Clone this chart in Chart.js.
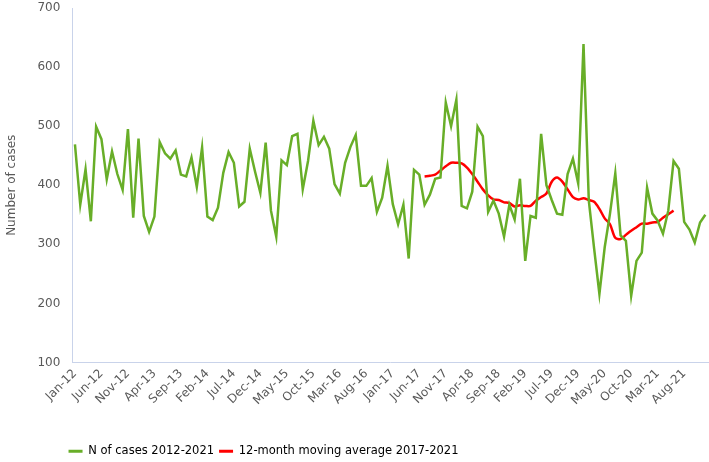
<!DOCTYPE html>
<html>
<head>
<meta charset="utf-8">
<script src="https://cdn.jsdelivr.net/npm/chart.js@4"></script>
<style>
  html, body { margin: 0; padding: 0; background: #fff; }
  #chart { display: block; }
</style>
</head>
<body>
<canvas id="chart" width="709" height="462"></canvas>
<script>
// --- Data ---
const monthNames = ['Jan', 'Feb', 'Mar', 'Apr', 'May', 'Jun', 'Jul', 'Aug', 'Sep', 'Oct', 'Nov', 'Dec'];
const years = ['12', '13', '14', '15', '16', '17', '18', '19', '20', '21'];

const cases = [
    469, 367, 427, 339, 499, 478, 410, 457, 419, 392, 495, 345,   // 2012
    479, 348, 321, 347, 473, 454, 445, 459, 418, 415, 447, 397,   // 2013
    464, 347, 341, 362, 421, 456, 438, 364, 372, 462, 423, 387,   // 2014
    472, 357, 313, 442, 434, 483, 487, 393, 441, 509, 468, 482,   // 2015
    462, 402, 386, 438, 465, 485, 399, 399, 412, 355, 379, 433,   // 2016
    368, 334, 367, 276, 426, 418, 367, 384, 411, 413, 540, 500,   // 2017
    545, 365, 361, 389, 499, 483, 355, 374, 352, 313, 367, 342,   // 2018
    411, 272, 348, 345, 487, 400, 375, 352, 350, 419, 445, 403,   // 2019
    639, 374, 293, 216, 295, 352, 420, 315, 306, 213, 272, 286,   // 2020
    396, 352, 340, 318, 357, 441, 428, 338, 325, 303, 337, 350    // 2021
];

// 12-month moving average, Jul-17 .. Jun-21
const avgOffset = 66;
const movingAvg = [
    415, 416, 418, 425, 432, 438,
    438, 437, 430, 419, 406, 393, 383, 376, 375, 371, 370, 364,
    366, 365, 365, 374, 380, 386, 406, 413, 406, 393, 380, 376,
    378, 375, 372, 360, 344, 334, 311, 309, 316, 323, 329, 335,
    335, 337, 338, 345, 351, 357
];

const labels = [];
years.forEach(y => monthNames.forEach(m => labels.push(m + '-' + y)));

const avgSeries = new Array(avgOffset).fill(null).concat(movingAvg);
while (avgSeries.length < labels.length) avgSeries.push(null);

const green = '#68ae28';
const red = '#ff0000';
const textColor = '#595959';
const axisColor = '#c9d3ea';

Chart.defaults.font.family = '"DejaVu Sans", Verdana, sans-serif';
Chart.defaults.color = textColor;

// shift the legend so it sits where the original one was
const legendShift = {
    id: 'legendShift',
    afterLayout(chart) {
        const lg = chart.legend;
        lg.left = 0;
        lg.right = 527;
        lg.top += 5;
        lg.bottom += 5;
    }
};

new Chart(document.getElementById('chart').getContext('2d'), {
    type: 'line',
    data: {
        labels: labels,
        datasets: [
            {
                label: 'N of cases 2012-2021',
                data: cases,
                borderColor: green,
                backgroundColor: green,
                borderWidth: 2.5,
                pointRadius: 0,
                tension: 0
            },
            {
                label: '12-month moving average 2017-2021',
                data: avgSeries,
                borderColor: red,
                backgroundColor: red,
                borderWidth: 2.5,
                pointRadius: 0,
                tension: 0.3,
                spanGaps: false
            }
        ]
    },
    options: {
        responsive: false,
        animation: false,
        layout: { padding: { top: 0, right: 1, left: 5, bottom: 0 } },
        scales: {
            x: {
                offset: true,
                grid: { display: false, drawTicks: false },
                border: { display: true, color: axisColor, width: 1 },
                afterFit: function(scale) { scale.height = 73; },
                ticks: {
                    autoSkip: false,
                    maxRotation: 45,
                    minRotation: 45,
                    padding: 4,
                    font: { size: 12 },
                    color: textColor,
                    callback: function(value, index) {
                        return index % 5 === 0 ? this.getLabelForValue(value) : null;
                    }
                }
            },
            y: {
                min: 100,
                max: 700,
                grid: { display: false, drawTicks: false },
                border: { display: true, color: axisColor, width: 1 },
                afterFit: function(scale) { scale.paddingTop = 8; },
                ticks: {
                    stepSize: 100,
                    padding: 12,
                    font: { size: 12 },
                    color: textColor
                },
                title: {
                    display: true,
                    text: 'Number of cases',
                    font: { size: 12 },
                    color: textColor,
                    padding: { top: 0, bottom: 6 }
                }
            }
        },
        plugins: {
            tooltip: { enabled: false },
            legend: {
                position: 'bottom',
                labels: {
                    boxWidth: 14,
                    boxHeight: 3,
                    padding: 5,
                    font: { size: 11.5 },
                    color: textColor,
                    generateLabels: function(chart) {
                        return chart.data.datasets.map((ds, i) => ({
                            text: ds.label,
                            fillStyle: ds.borderColor,
                            strokeStyle: ds.borderColor,
                            lineWidth: 0,
                            hidden: false,
                            datasetIndex: i
                        }));
                    }
                }
            }
        }
    },
    plugins: [legendShift]
});
</script>
</body>
</html>
